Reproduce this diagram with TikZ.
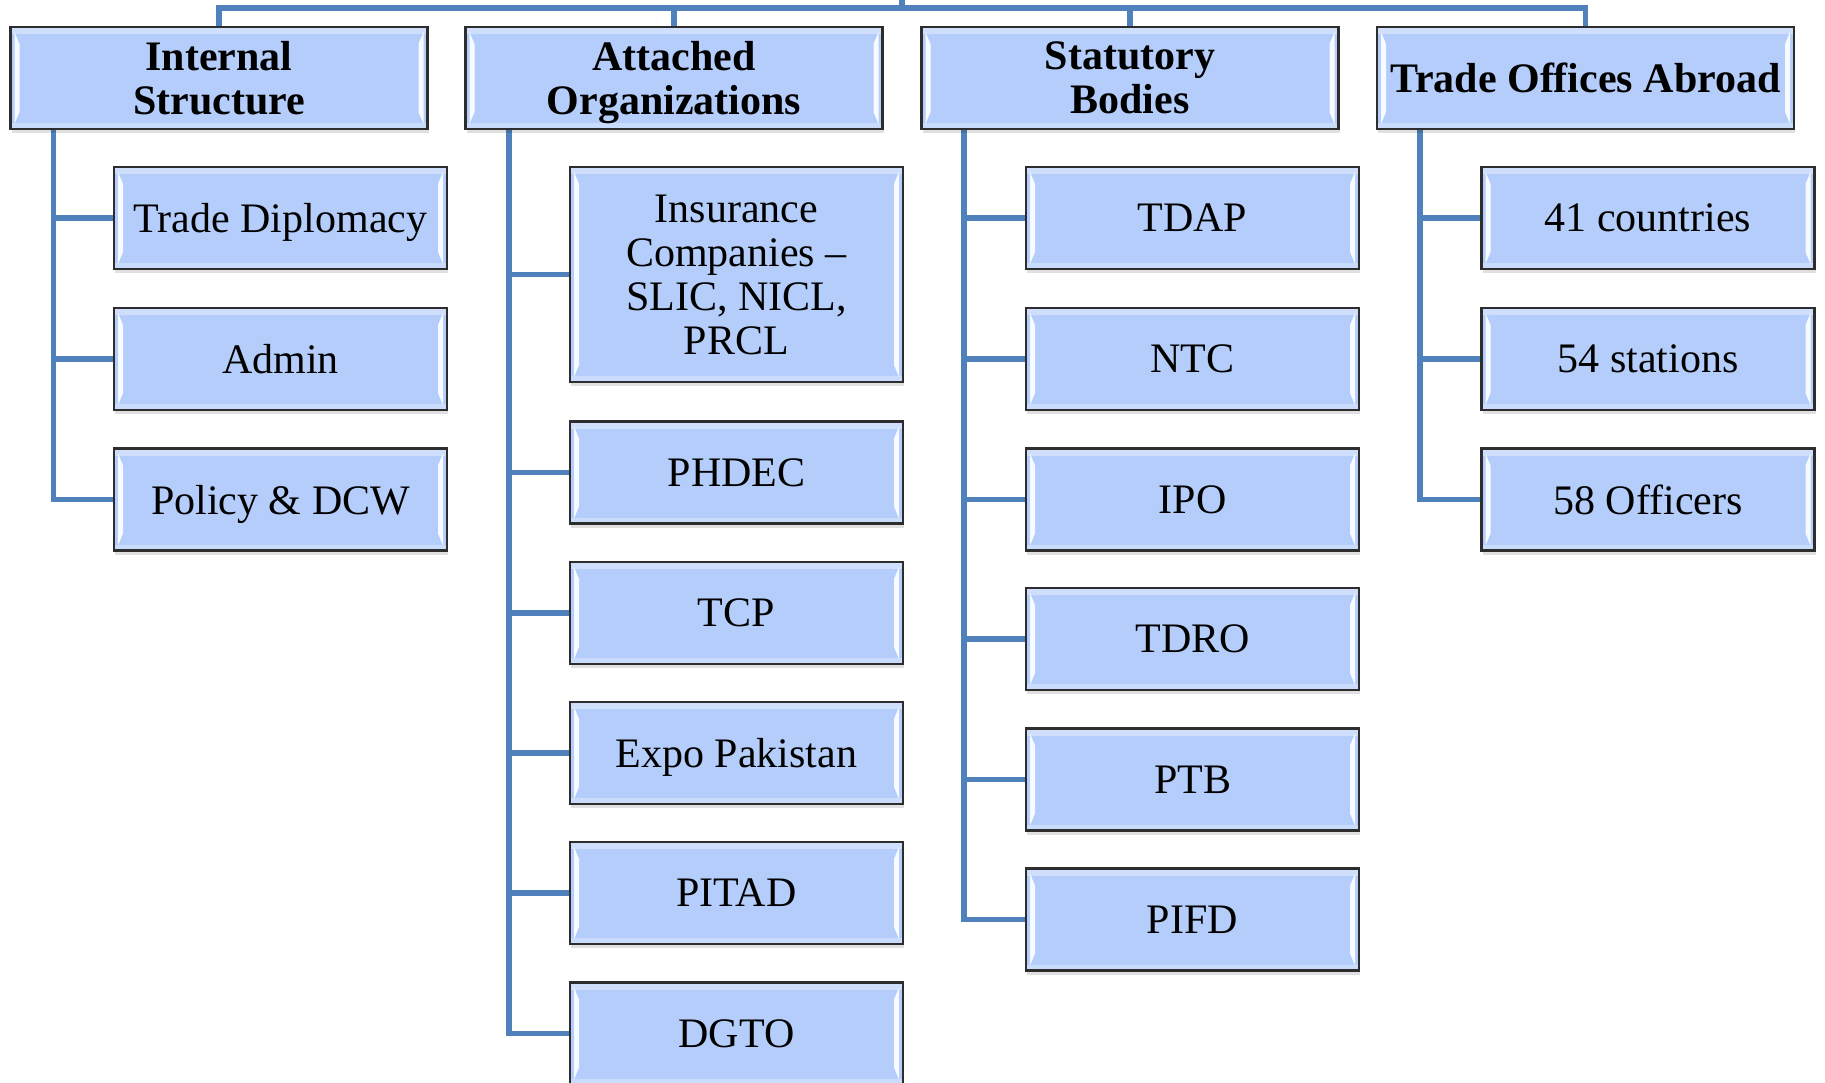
\documentclass[tikz,border=0pt]{standalone}
\usepackage{fontspec}
\setmainfont{Liberation Serif}
\usetikzlibrary{shadows}
\definecolor{boxblue}{RGB}{180,205,250}
\definecolor{connblue}{RGB}{79,129,189}
\definecolor{edgegray}{RGB}{45,45,45}
\pgfdeclarelayer{paper}
\pgfdeclarelayer{wires}
\pgfsetlayers{paper,wires,main}
\newcommand{\nd}[1]{\raisebox{0pt}[\height][0pt]{#1}}
\begin{document}
\begin{tikzpicture}[x=1pt,y=-1pt,
  bevel/.style={path picture={
    \fill[white,opacity=0.35] (path picture bounding box.north west) rectangle ([yshift=-7pt]path picture bounding box.north east);
    \fill[white,opacity=0.3] ([yshift=6pt]path picture bounding box.south west) rectangle (path picture bounding box.south east);
    \fill[white,opacity=0.9] ([shift={(4pt,-5pt)}]path picture bounding box.north west) -- ([shift={(9pt,-17pt)}]path picture bounding box.north west) -- ([shift={(9pt,17pt)}]path picture bounding box.south west) -- ([shift={(4pt,5pt)}]path picture bounding box.south west) -- cycle;
    \fill[white,opacity=0.9] ([shift={(-4pt,-5pt)}]path picture bounding box.north east) -- ([shift={(-9pt,-17pt)}]path picture bounding box.north east) -- ([shift={(-9pt,17pt)}]path picture bounding box.south east) -- ([shift={(-4pt,5pt)}]path picture bounding box.south east) -- cycle;
  }},
  bx/.style={draw=edgegray, line width=2.5pt, fill=boxblue, align=center, inner sep=0pt,
     drop shadow={shadow xshift=1pt, shadow yshift=-4pt, opacity=0.12, fill=black}, bevel},
  hd/.style={bx, minimum width=417pt, minimum height=102pt, font=\fontsize{42}{44}\selectfont\bfseries},
  ch/.style={bx, minimum width=333pt, minimum height=102pt, font=\fontsize{42}{44}\selectfont},
  conn/.style={draw=connblue, line width=5.5pt}]
\begin{pgfonlayer}{paper}
\fill[white] (0,0) rectangle (1825,1083);
\end{pgfonlayer}
\useasboundingbox (0,0) rectangle (1825,1083);

\coordinate (top) at (902,8);
\coordinate (root) at (902,-10);
\coordinate (s1) at (53.5,129);
\coordinate (s2) at (509,129);
\coordinate (s3) at (964,129);
\coordinate (s4) at (1420,129);

% headers
\node[hd] (h1) at (219,78) {Internal\\Structure};
\node[hd] (h2) at (674,78) {Attached\\\nd{Organizations}};
\node[hd] (h3) at (1130,78) {Statutory\\Bodies};
\node[hd] (h4) at (1585.5,78) {Trade Offices Abroad};

% group 1
\node[ch] (a1) at (280.5,218) {\nd{Trade Diplomacy}};
\node[ch] (a2) at (280.5,359) {Admin};
\node[ch] (a3) at (280.5,499.5) {\nd{Policy \& DCW}};

% group 2
\node[ch, minimum height=215pt] (b1) at (736.5,274.5) {Insurance\\Companies –\\SLIC, NICL,\\PRCL};
\node[ch] (b2) at (736.5,472.5) {PHDEC};
\node[ch] (b3) at (736.5,613) {TCP};
\node[ch] (b4) at (736.5,753) {\nd{Expo Pakistan}};
\node[ch] (b5) at (736.5,893) {PITAD};
\node[ch] (b6) at (736.5,1033.5) {DGTO};

% group 3
\node[ch] (c1) at (1192.5,218) {TDAP};
\node[ch] (c2) at (1192.5,359) {NTC};
\node[ch] (c3) at (1192.5,499.5) {IPO};
\node[ch] (c4) at (1192.5,639) {TDRO};
\node[ch] (c5) at (1192.5,779.5) {PTB};
\node[ch] (c6) at (1192.5,919.5) {PIFD};

% group 4
\node[ch] (d1) at (1648,218) {41 countries};
\node[ch] (d2) at (1648,359) {54 stations};
\node[ch] (d3) at (1648,499.5) {58 Officers};

\begin{pgfonlayer}{wires}
\draw[conn] (root) -- (top);
\foreach \h in {h1,h2,h3,h4} \draw[conn] (\h.north) |- (top);
\foreach \c in {a1,a2,a3} \draw[conn] (s1) |- (\c.west);
\foreach \c in {b1,b2,b3,b4,b5,b6} \draw[conn] (s2) |- (\c.west);
\foreach \c in {c1,c2,c3,c4,c5,c6} \draw[conn] (s3) |- (\c.west);
\foreach \c in {d1,d2,d3} \draw[conn] (s4) |- (\c.west);
\end{pgfonlayer}
\end{tikzpicture}
\end{document}
